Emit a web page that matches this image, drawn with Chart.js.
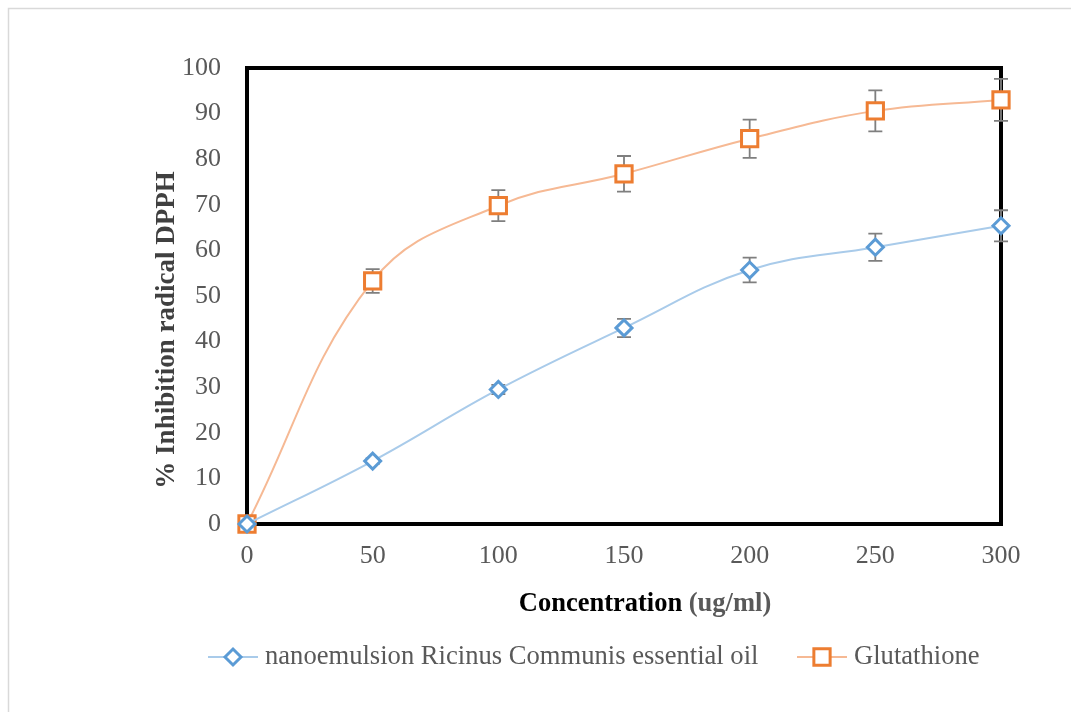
<!DOCTYPE html>
<html>
<head>
<meta charset="utf-8">
<script src="https://cdn.jsdelivr.net/npm/chart.js@4"></script>
<style>
html,body{margin:0;padding:0;background:#fff;}
#wrap{width:1071px;height:712px;position:relative;}
</style>
</head>
<body>
<div id="wrap"><canvas id="c" width="1071" height="712"></canvas></div>
<script>
const concentrations = [0, 50, 100, 150, 200, 250, 300];
const nanoemulsion = [0, 13.8, 29.5, 43.0, 55.7, 60.7, 65.4];
const nanoemulsionErr = [0, 0.6, 1.0, 2.0, 2.7, 3.0, 3.4];
const glutathione = [0, 53.3, 69.8, 76.8, 84.5, 90.6, 93.0];
const glutathioneErr = [0, 2.6, 3.4, 3.9, 4.2, 4.5, 4.6];
const seriesNames = ['nanoemulsion Ricinus Communis essential oil', 'Glutathione'];
const xTickValues = [0, 50, 100, 150, 200, 250, 300];
const yTickValues = [0, 10, 20, 30, 40, 50, 60, 70, 80, 90, 100];

const BLUE = '#5B9BD5', BLUE_LINE = '#A9CBEA';
const ORANGE = '#ED7D31', ORANGE_LINE = '#F6B994';
const SERIF = '"Liberation Serif", "Times New Roman", serif';

const toPts = (ys) => concentrations.map((x, i) => ({x: x, y: ys[i]}));
const errs = [nanoemulsionErr, glutathioneErr];

const decor = {
  id: 'decor',
  beforeDraw(chart) {
    const ctx = chart.ctx;
    ctx.save();
    ctx.fillStyle = '#fff';
    ctx.fillRect(0, 0, chart.width, chart.height);
    ctx.strokeStyle = '#D9D9D9';
    ctx.lineWidth = 1.5;
    ctx.beginPath();
    ctx.moveTo(8.5, chart.height + 5);
    ctx.lineTo(8.5, 8.5);
    ctx.lineTo(chart.width + 5, 8.5);
    ctx.stroke();
    ctx.restore();
  },
  beforeDatasetsDraw(chart) {
    const ctx = chart.ctx;
    const a = chart.chartArea;
    const xs = chart.scales.x, ys = chart.scales.y;
    ctx.save();
    ctx.strokeStyle = '#000';
    ctx.lineWidth = 4;
    ctx.strokeRect(a.left, a.top, a.right - a.left, a.bottom - a.top);
    ctx.strokeStyle = '#7F7F7F';
    ctx.lineWidth = 1.8;
    chart.data.datasets.forEach((ds, di) => {
      ds.data.forEach((p, i) => {
        const e = errs[di][i];
        if (!e) return;
        const px = xs.getPixelForValue(p.x);
        const yt = ys.getPixelForValue(p.y + e);
        const yb = ys.getPixelForValue(p.y - e);
        ctx.beginPath();
        ctx.moveTo(px, yt); ctx.lineTo(px, yb);
        ctx.moveTo(px - 7, yt); ctx.lineTo(px + 7, yt);
        ctx.moveTo(px - 7, yb); ctx.lineTo(px + 7, yb);
        ctx.stroke();
      });
    });
    ctx.restore();
  },
  afterDraw(chart) {
    const ctx = chart.ctx;
    ctx.save();
    ctx.translate(167, 330);
    ctx.rotate(-Math.PI / 2);
    ctx.fillStyle = '#404040';
    ctx.font = 'bold 27px ' + SERIF;
    ctx.textAlign = 'center';
    ctx.textBaseline = 'middle';
    ctx.fillText('% Inhibition radical DPPH', 0, 0);
    ctx.restore();

    ctx.save();
    ctx.font = 'bold 26.5px ' + SERIF;
    ctx.textBaseline = 'middle';
    const t1 = 'Concentration ', t2 = '(ug/ml)';
    const w1 = ctx.measureText(t1).width, w2 = ctx.measureText(t2).width;
    let sx = 645 - (w1 + w2) / 2;
    ctx.fillStyle = '#000';
    ctx.fillText(t1, sx, 604);
    ctx.fillStyle = '#595959';
    ctx.fillText(t2, sx + w1, 604);
    ctx.restore();

    ctx.save();
    const ly = 657;
    const items = [
      {x: 208, line: BLUE_LINE, col: BLUE, style: 'rectRot', r: 8, text: seriesNames[0]},
      {x: 797, line: ORANGE_LINE, col: ORANGE, style: 'rect', r: 11.5, text: seriesNames[1]}
    ];
    items.forEach(it => {
      ctx.strokeStyle = it.line;
      ctx.lineWidth = 2;
      ctx.beginPath();
      ctx.moveTo(it.x, ly); ctx.lineTo(it.x + 50, ly);
      ctx.stroke();
      ctx.fillStyle = '#fff';
      ctx.strokeStyle = it.col;
      ctx.lineWidth = 3;
      Chart.helpers.drawPoint(ctx, {pointStyle: it.style, radius: it.r, rotation: 0, borderWidth: 3}, it.x + 25, ly);
      ctx.fillStyle = '#595959';
      ctx.font = '26.6px ' + SERIF;
      ctx.textBaseline = 'middle';
      ctx.fillText(it.text, it.x + 57, ly);
    });
    ctx.restore();
  }
};

new Chart(document.getElementById('c'), {
  type: 'line',
  data: {
    datasets: [
      {
        label: seriesNames[0],
        data: toPts(nanoemulsion),
        borderColor: BLUE_LINE,
        borderWidth: 2,
        tension: 0.4,
        pointStyle: 'rectRot',
        pointRadius: 8,
        pointBorderWidth: 3,
        pointBorderColor: BLUE,
        pointBackgroundColor: '#fff',
        pointHoverRadius: 8,
        clip: false
      },
      {
        label: seriesNames[1],
        data: toPts(glutathione),
        borderColor: ORANGE_LINE,
        borderWidth: 2,
        tension: 0.4,
        pointStyle: 'rect',
        pointRadius: 11.5,
        pointBorderWidth: 3,
        pointBorderColor: ORANGE,
        pointBackgroundColor: '#fff',
        pointHoverRadius: 11.5,
        clip: false
      }
    ]
  },
  options: {
    responsive: false,
    devicePixelRatio: 1,
    animation: false,
    events: [],
    layout: {padding: {top: 68, right: 70, left: 0, bottom: 0}},
    plugins: {legend: {display: false}, tooltip: {enabled: false}},
    scales: {
      x: {
        type: 'linear',
        min: 0, max: 300,
        afterBuildTicks(s) { s.ticks = xTickValues.map(v => ({value: v})); },
        afterFit(s) { s.height = 188; },
        grid: {display: false},
        border: {display: false},
        ticks: {color: '#595959', font: {family: SERIF, size: 26}, padding: 9, maxRotation: 0, autoSkip: false}
      },
      y: {
        min: 0, max: 100,
        afterBuildTicks(s) { s.ticks = yTickValues.map(v => ({value: v})); },
        afterFit(s) { s.width = 247; },
        grid: {display: false},
        border: {display: false},
        ticks: {color: '#595959', font: {family: SERIF, size: 26}, padding: 18, autoSkip: false}
      }
    }
  },
  plugins: [decor]
});
</script>
</body>
</html>
